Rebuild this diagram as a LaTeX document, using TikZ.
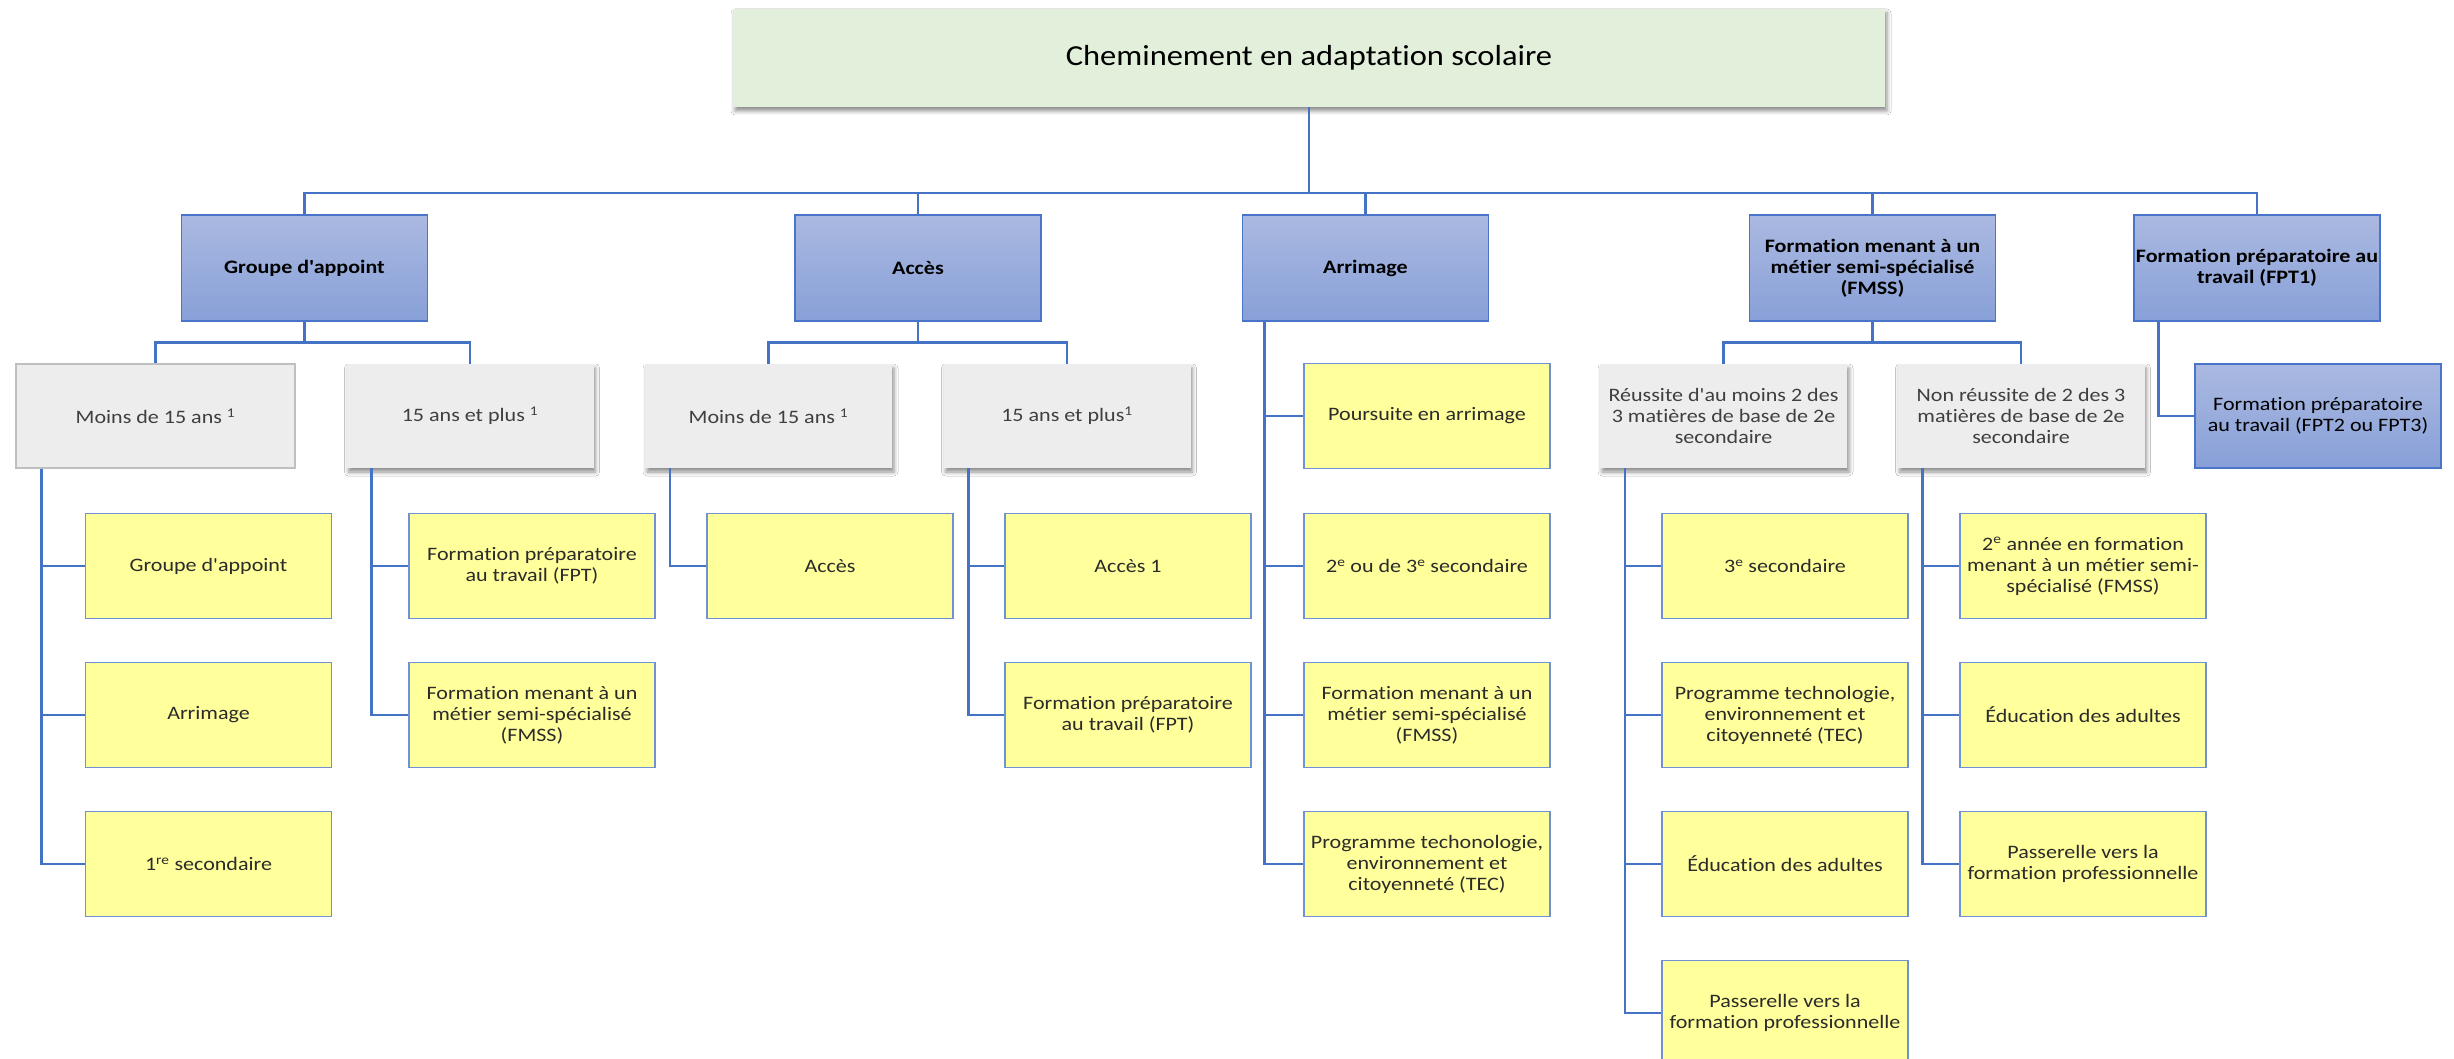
\documentclass[tikz,border=0pt]{standalone}
\usepackage{fontspec}
\setmainfont{Carlito}[FakeStretch=1.16,Ligatures={NoCommon,TeXOff}]
\newfontfamily\titlefont{Carlito}[FakeStretch=1.12,Ligatures={NoCommon,TeXOff}]
\usetikzlibrary{shadows.blur,calc}
\definecolor{linkblue}{HTML}{4472C4}
\definecolor{titlefill}{HTML}{E2EFDA}
\definecolor{bluetop}{HTML}{AAB9E1}
\definecolor{bluebot}{HTML}{88A0D8}
\definecolor{blueborder}{HTML}{4A74C8}
\definecolor{grayfill}{HTML}{EDEDED}
\definecolor{grayborder}{HTML}{BFBFBF}
\definecolor{graytext}{HTML}{3F3F3F}
\definecolor{yellowfill}{HTML}{FFFF9B}
\definecolor{yellowborder}{HTML}{7092D2}
\definecolor{ytext}{HTML}{2B2B2B}
\begin{document}
\begin{tikzpicture}[x=1pt,y=-1pt,
  base/.style={align=center,inner sep=2pt,font=\fontsize{19}{21}\selectfont},
  shadowed/.style={blur shadow={shadow xshift=2pt,shadow yshift=-4pt,shadow blur radius=4pt,shadow opacity=45}},
  titlebox/.style={base,minimum width=1152pt,minimum height=98pt,fill=titlefill,shadowed,
    font=\titlefont\fontsize{29}{32}\selectfont,text=black},
  lvlone/.style={base,minimum width=246pt,minimum height=106pt,draw=blueborder,line width=1.5pt,
    top color=bluetop,bottom color=bluebot,font=\bfseries\fontsize{19}{21}\selectfont,text=black},
  bluesub/.style={base,minimum width=246pt,minimum height=104pt,draw=blueborder,line width=1.5pt,
    top color=bluetop,bottom color=bluebot,text=black},
  graybox/.style={base,minimum width=247pt,minimum height=104pt,fill=grayfill,text=graytext,shadowed},
  yelbox/.style={base,minimum width=246pt,minimum height=105pt,fill=yellowfill,draw=yellowborder,
    line width=1.2pt,text=ytext},
  link/.style={draw=linkblue,line width=2.6pt}
]
\fill[white] (0,0) rectangle (2454,1059);
\useasboundingbox (0,0) rectangle (2454,1059);

% title
\node[titlebox] (title) at (1309,58) {Cheminement en adaptation scolaire};

% level 1
\node[lvlone] (ga)   at (304.5,268) {Groupe d'appoint};
\node[lvlone] (acc)  at (918,268)   {Accès};
\node[lvlone] (arr)  at (1365.5,268){Arrimage};
\node[lvlone] (fmss) at (1872.5,268){Formation menant à un\\métier semi-spécialisé\\(FMSS)};
\node[lvlone] (fpta) at (2257,268)  {Formation préparatoire au\\travail (FPT1)};

% level 2
\node[base,minimum width=279pt,minimum height=104pt,fill=grayfill,draw=grayborder,line width=1.2pt,text=graytext]
  (gam) at (155.5,416) {Moins de 15 ans \textsuperscript{1}};
\node[graybox] (gap) at (470,416)    {15 ans et plus \textsuperscript{1}};
\node[graybox] (acm) at (768.5,416)  {Moins de 15 ans \textsuperscript{1}};
\node[graybox] (acp) at (1067,416)   {15 ans et plus\textsuperscript{1}};
\node[graybox] (reu) at (1723.5,416) {Réussite d'au moins 2 des\\3 matières de base de 2e\\secondaire};
\node[graybox] (non) at (2021,416)   {Non réussite de 2 des 3\\matières de base de 2e\\secondaire};
\node[bluesub] (fptb) at (2318,416)  {Formation préparatoire\\au travail (FPT2 ou FPT3)};

% yellow leaves
\node[yelbox] (gam1) at (208.5,566) {Groupe d'appoint};
\node[yelbox] (gam2) at (208.5,715) {Arrimage};
\node[yelbox] (gam3) at (208.5,864) {1\textsuperscript{re} secondaire};

\node[yelbox] (gap1) at (532,566) {Formation préparatoire\\au travail (FPT)};
\node[yelbox] (gap2) at (532,715) {Formation menant à un\\métier semi-spécialisé\\(FMSS)};

\node[yelbox] (acm1) at (830,566) {Accès};

\node[yelbox] (acp1) at (1128,566) {Accès 1};
\node[yelbox] (acp2) at (1128,715) {Formation préparatoire\\au travail (FPT)};

\node[yelbox] (arr1) at (1427,416) {Poursuite en arrimage};
\node[yelbox] (arr2) at (1427,566) {2\textsuperscript{e} ou de 3\textsuperscript{e} secondaire};
\node[yelbox] (arr3) at (1427,715) {Formation menant à un\\métier semi-spécialisé\\(FMSS)};
\node[yelbox] (arr4) at (1427,864) {Programme techonologie,\\environnement et\\citoyenneté (TEC)};

\node[yelbox] (reu1) at (1785,566)  {3\textsuperscript{e} secondaire};
\node[yelbox] (reu2) at (1785,715)  {Programme technologie,\\environnement et\\citoyenneté (TEC)};
\node[yelbox] (reu3) at (1785,864)  {Éducation des adultes};
\node[yelbox] (reu4) at (1785,1013) {Passerelle vers la\\formation professionnelle};

\node[yelbox] (non1) at (2083,566) {2\textsuperscript{e} année en formation\\menant à un métier semi-\\spécialisé (FMSS)};
\node[yelbox] (non2) at (2083,715) {Éducation des adultes};
\node[yelbox] (non3) at (2083,864) {Passerelle vers la\\formation professionnelle};

% connectors: title to level 1
\coordinate (bus) at (1309,193);
\draw[link] (title.south) -- (bus);
\foreach \n in {ga,acc,arr,fmss,fpta} \draw[link] (bus) -| (\n.north);

% level 1 to level 2
\draw[link] (ga.south) -- ++(0,21) -| (gam.north);
\draw[link] (ga.south) -- ++(0,21) -| (gap.north);
\draw[link] (acc.south) -- ++(0,21) -| (acm.north);
\draw[link] (acc.south) -- ++(0,21) -| (acp.north);
\draw[link] (fmss.south) -- ++(0,21) -| (reu.north);
\draw[link] (fmss.south) -- ++(0,21) -| (non.north);
\draw[link] ($(fpta.south west)+(25,0)$) |- (fptb.west);

% side-line connectors
\foreach \c in {gam1,gam2,gam3} \draw[link] ($(gam.south west)+(26,0)$) |- (\c.west);
\foreach \c in {gap1,gap2} \draw[link] ($(gap.south west)+(25,0)$) |- (\c.west);
\foreach \c in {acm1} \draw[link] ($(acm.south west)+(25,0)$) |- (\c.west);
\foreach \c in {acp1,acp2} \draw[link] ($(acp.south west)+(25,0)$) |- (\c.west);
\foreach \c in {arr1,arr2,arr3,arr4} \draw[link] ($(arr.south west)+(23,0)$) |- (\c.west);
\foreach \c in {reu1,reu2,reu3,reu4} \draw[link] ($(reu.south west)+(25,0)$) |- (\c.west);
\foreach \c in {non1,non2,non3} \draw[link] ($(non.south west)+(25,0)$) |- (\c.west);
\end{tikzpicture}
\end{document}
